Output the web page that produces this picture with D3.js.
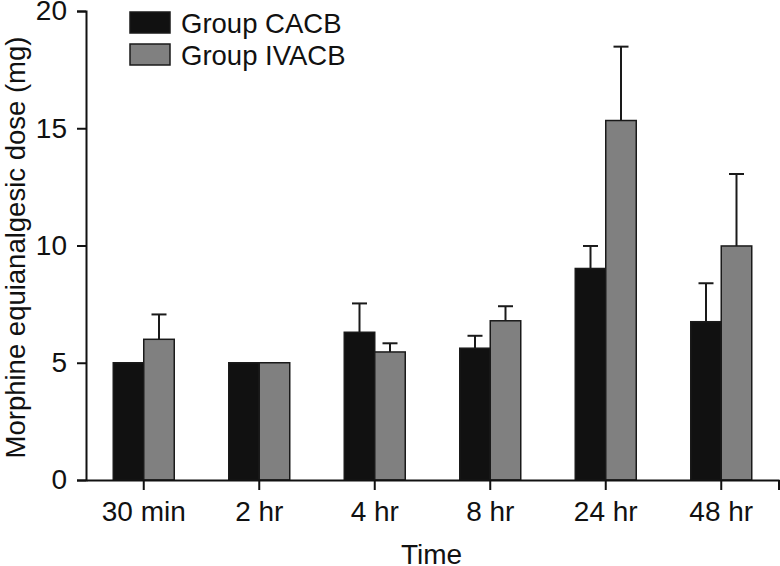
<!DOCTYPE html>
<html>
<head>
<meta charset="utf-8">
<script src="https://cdn.jsdelivr.net/npm/d3@7"></script>
<style>
  html, body { margin: 0; padding: 0; background: #fff; }
  svg { display: block; }
  text { font-family: "Liberation Sans", Arial, Helvetica, sans-serif; fill: #111; }
</style>
</head>
<body>
<svg id="chart" width="780" height="566"></svg>
<script>
const categories = ["30 min", "2 hr", "4 hr", "8 hr", "24 hr", "48 hr"];
const groups = ["Group CACB", "Group IVACB"];
const cacbMean = [5.0, 5.0, 6.3, 5.62, 9.02, 6.75];
const cacbSD   = [0, 0, 1.23, 0.53, 0.96, 1.64];
const ivacbMean = [6.0, 5.0, 5.46, 6.79, 15.33, 9.98];
const ivacbSD   = [1.06, 0, 0.37, 0.62, 3.15, 3.07];
const yTicks = [0, 5, 10, 15, 20];
const colors = ["#111111", "#808080"];

(function () {
const svg = d3.select("#chart");
const mLeft = 86, mRight = 779, mTop = 11, mBottom = 480;
const fs = "28px";

const x = d3.scaleBand().domain(categories).range([mLeft, mRight]).padding(0);
const barW = 30.5;
const xi = d3.scaleBand().domain(groups)
  .range([x.bandwidth() / 2 - barW, x.bandwidth() / 2 + barW]).padding(0);
const y = d3.scaleLinear().domain([0, 20]).range([mBottom, mTop]);

const rows = [];
categories.forEach((c, i) => {
  rows.push({ cat: c, g: groups[0], v: cacbMean[i], sd: cacbSD[i] });
  rows.push({ cat: c, g: groups[1], v: ivacbMean[i], sd: ivacbSD[i] });
});

// error bars
const eb = svg.append("g").attr("stroke", "#1a1a1a").attr("stroke-width", 2);
rows.filter(d => d.sd > 0).forEach(d => {
  const cx = x(d.cat) + xi(d.g) + xi.bandwidth() / 2;
  eb.append("line").attr("x1", cx).attr("x2", cx)
    .attr("y1", y(d.v)).attr("y2", y(d.v + d.sd));
  eb.append("line").attr("x1", cx - 7.5).attr("x2", cx + 7.5)
    .attr("y1", y(d.v + d.sd)).attr("y2", y(d.v + d.sd));
});

// bars
svg.append("g").selectAll("rect").data(rows).join("rect")
  .attr("x", d => x(d.cat) + xi(d.g))
  .attr("y", d => y(d.v))
  .attr("width", xi.bandwidth())
  .attr("height", d => y(0) - y(d.v))
  .attr("fill", d => colors[groups.indexOf(d.g)])
  .attr("stroke", "#1a1a1a")
  .attr("stroke-width", 1.5);

// y axis
const yAxis = svg.append("g").attr("transform", `translate(${mLeft},0)`)
  .call(d3.axisLeft(y).tickValues(yTicks).tickSize(9).tickSizeOuter(9).tickPadding(10));
yAxis.selectAll("path, line").attr("stroke", "#111").attr("stroke-width", 2);
yAxis.selectAll("text").style("font-size", fs).attr("fill", "#111")
  .style("font-family", "'Liberation Sans', Arial, sans-serif");

// x axis
const xAxis = svg.append("g").attr("transform", `translate(0,${mBottom})`)
  .call(d3.axisBottom(x).tickSize(10).tickSizeOuter(0).tickPadding(11));
xAxis.selectAll("path, line").attr("stroke", "#111").attr("stroke-width", 2);
xAxis.selectAll("text").style("font-size", fs).attr("fill", "#111")
  .style("font-family", "'Liberation Sans', Arial, sans-serif");
xAxis.append("line")
  .attr("x1", x.range()[1]).attr("x2", x.range()[1])
  .attr("y1", 0).attr("y2", 10)
  .attr("stroke", "#111").attr("stroke-width", 2);

// axis titles
svg.append("text")
  .attr("x", (mLeft + mRight) / 2 - 1).attr("y", 564)
  .attr("text-anchor", "middle").style("font-size", fs)
  .text("Time");
svg.append("text")
  .attr("transform", `translate(24.5,${(mTop + mBottom) / 2 + 2}) rotate(-90)`)
  .attr("text-anchor", "middle").style("font-size", "27.5px")
  .text("Morphine equianalgesic dose (mg)");

// legend
const lg = svg.append("g");
groups.forEach((g, i) => {
  const yy = 12 + i * 32;
  lg.append("rect").attr("x", 130).attr("y", yy).attr("width", 40).attr("height", 21)
    .attr("fill", colors[i]).attr("stroke", "#1a1a1a").attr("stroke-width", 1.5);
  lg.append("text").attr("x", 181).attr("y", yy + 20.5)
    .style("font-size", "27.5px").text(g);
});
})();
</script>
</body>
</html>
